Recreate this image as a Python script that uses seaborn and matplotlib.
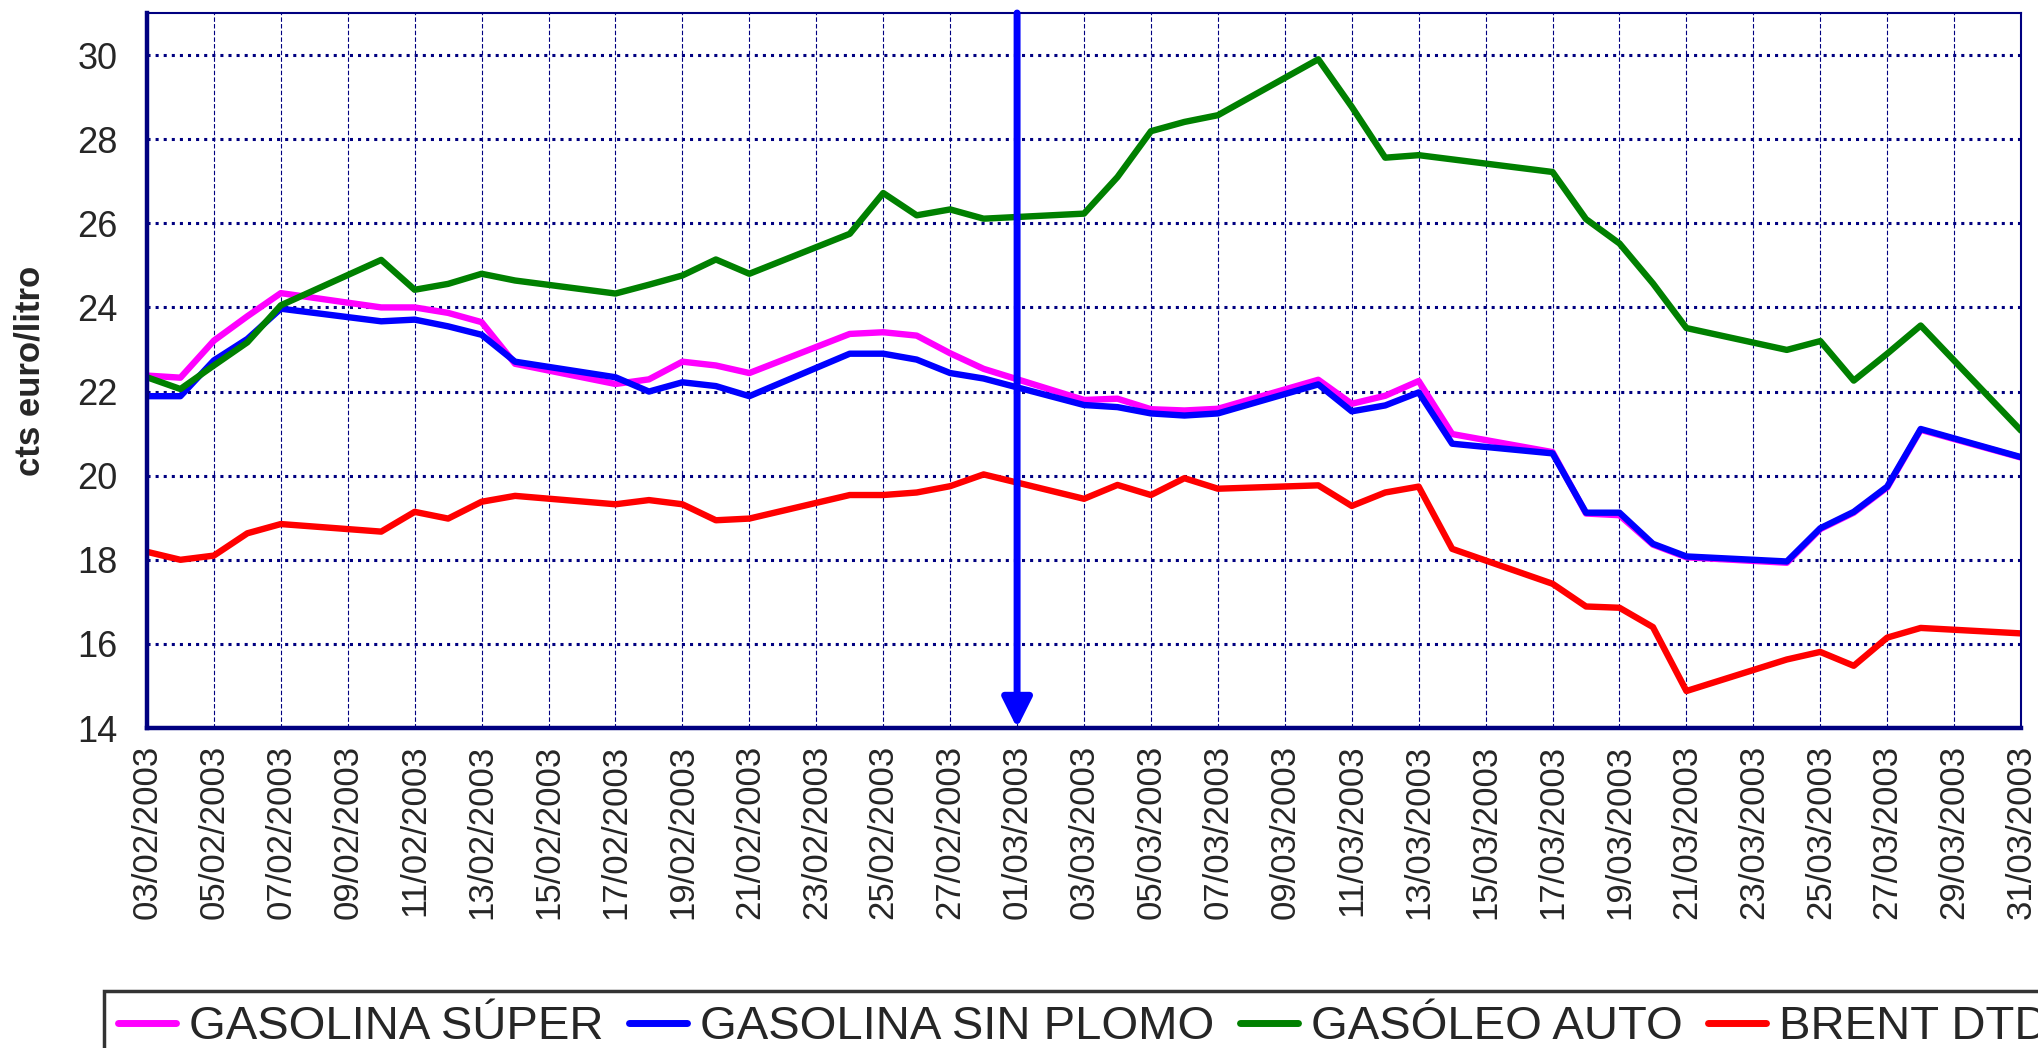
import numpy as np
import matplotlib
matplotlib.use("Agg")
import matplotlib.pyplot as plt
import matplotlib.dates as mdates
import pandas as pd
import seaborn as sns

# dias habiles 03/02/2003 - 31/03/2003
fechas = pd.bdate_range("2003-02-03", "2003-03-31")

gasolina_super = [22.38, 22.33, 23.21, 23.79, 24.34,
                  24.00, 24.00, 23.87, 23.65, 22.66,
                  22.18, 22.29, 22.71, 22.62, 22.44,
                  23.37, 23.41, 23.33, 22.91, 22.54,
                  21.80, 21.83, 21.58, 21.55, 21.59,
                  22.28, 21.71, 21.90, 22.25, 20.99,
                  20.56, 19.10, 19.06, 18.36, 18.06,
                  17.93, 18.73, 19.12, 19.72, 21.09,
                  20.43]
gasolina_sin_plomo = [21.89, 21.89, 22.74, 23.25, 23.97,
                      23.67, 23.71, 23.55, 23.35, 22.71,
                      22.34, 22.00, 22.22, 22.13, 21.89,
                      22.90, 22.90, 22.76, 22.44, 22.31,
                      21.68, 21.63, 21.48, 21.43, 21.48,
                      22.17, 21.53, 21.67, 21.98, 20.76,
                      20.53, 19.12, 19.12, 18.38, 18.08,
                      17.96, 18.75, 19.14, 19.74, 21.11,
                      20.44]
gasoleo_auto = [22.34, 22.06, 22.62, 23.17, 24.05,
                25.13, 24.42, 24.56, 24.80, 24.64,
                24.33, 24.54, 24.76, 25.14, 24.80,
                25.75, 26.72, 26.19, 26.33, 26.11,
                26.23, 27.10, 28.19, 28.41, 28.57,
                29.90, 28.77, 27.56, 27.62, 27.52,
                27.22, 26.10, 25.52, 24.57, 23.51,
                22.99, 23.20, 22.26, 22.90, 23.57,
                21.07]
brent_dtd = [18.19, 18.00, 18.10, 18.63, 18.85,
             18.67, 19.14, 18.98, 19.38, 19.52,
             19.32, 19.42, 19.32, 18.94, 18.98,
             19.54, 19.54, 19.60, 19.75, 20.03,
             19.45, 19.78, 19.54, 19.94, 19.69,
             19.77, 19.28, 19.60, 19.74, 18.26,
             17.43, 16.89, 16.86, 16.40, 14.88,
             15.63, 15.81, 15.48, 16.15, 16.38,
             16.25]

series = ["GASOLINA SÚPER", "GASOLINA SIN PLOMO", "GASÓLEO AUTO", "BRENT DTD"]
colores = ["#FF00FF", "#0000FF", "#008000", "#FF0000"]
fecha_flecha = "2003-03-01"
y_ticks = [14, 16, 18, 20, 22, 24, 26, 28, 30]

df = pd.DataFrame({
    "fecha": np.tile(fechas, 4),
    "serie": np.repeat(series, len(fechas)),
    "valor": gasolina_super + gasolina_sin_plomo + gasoleo_auto + brent_dtd,
})

sns.set_style("white")
plt.rcParams['font.family'] = ['Liberation Sans', 'DejaVu Sans']
navy = "#000080"

fig = plt.figure(figsize=(20.38, 10.48), dpi=100)
ax = fig.add_axes([0.0721, 0.3053, 0.9196, 0.6823])

sns.lineplot(data=df, x="fecha", y="valor", hue="serie", hue_order=series,
             palette=colores, linewidth=4.6, ax=ax)

ax.set_xlim(pd.Timestamp("2003-02-03"), pd.Timestamp("2003-03-31"))
ax.set_ylim(14, 31)
ax.set_yticks(y_ticks)
ax.xaxis.set_major_locator(mdates.DayLocator(bymonthday=range(1, 32, 2)))
ax.xaxis.set_major_formatter(mdates.DateFormatter("%d/%m/%Y"))

# rejilla
ax.yaxis.grid(True, color=navy, linestyle=":", linewidth=2.2)
ax.xaxis.grid(True, color=navy, linestyle=(0, (4, 2)), linewidth=0.8)
ax.set_axisbelow(True)

for s in ["left", "bottom"]:
    ax.spines[s].set_color(navy)
    ax.spines[s].set_linewidth(3.2)
for s in ["top", "right"]:
    ax.spines[s].set_color(navy)
    ax.spines[s].set_linewidth(1.5)

ax.tick_params(axis="both", direction="inout", length=18, width=3, color=navy)
ax.tick_params(axis="y", labelsize=26, pad=12)
ax.tick_params(axis="x", labelsize=25, pad=3, labelrotation=90)

ax.set_xlabel("")
ax.set_ylabel("cts euro/litro", fontsize=25, fontweight="bold", labelpad=22)

# flecha 01/03
xf = pd.Timestamp(fecha_flecha)
ax.annotate("", xy=(xf, 14), xytext=(xf, 31),
            arrowprops=dict(arrowstyle="-|>", color="#0000FF", lw=5,
                            mutation_scale=45, shrinkA=0, shrinkB=0))

handles, labels = ax.get_legend_handles_labels()
ax.get_legend().remove()
leg = ax.legend(handles, labels, ncol=4, loc="upper left",
                bbox_to_anchor=(0.051, 0.0545), bbox_transform=fig.transFigure,
                frameon=True, fancybox=False, edgecolor="black", borderaxespad=0,
                borderpad=0.3, handlelength=1.23, handletextpad=0.28,
                columnspacing=0.53,
                prop=dict(family=['Liberation Sans', 'DejaVu Sans'], size=34))
leg.get_frame().set_linewidth(2.5)
for l in leg.get_lines():
    l.set_linewidth(5)

fig.savefig("out.png", dpi=100)
